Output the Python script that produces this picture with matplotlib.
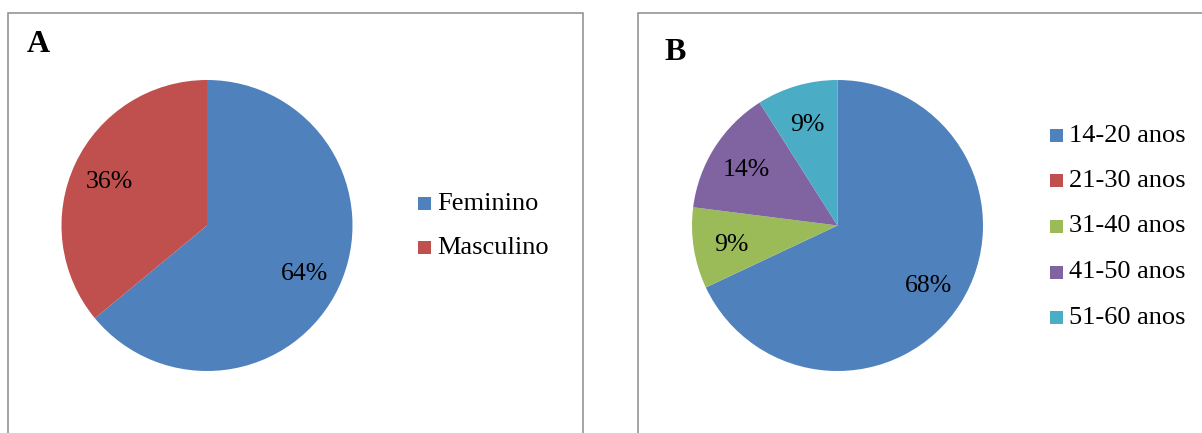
import matplotlib
matplotlib.use("Agg")
import matplotlib.pyplot as plt
from matplotlib.patches import Rectangle

plt.rcParams['font.family'] = ['Liberation Serif', 'DejaVu Serif']

# Data
sexo_labels = ["Feminino", "Masculino"]
sexo_values = [64, 36]
idade_labels = ["14-20 anos", "21-30 anos", "31-40 anos", "41-50 anos", "51-60 anos"]
idade_values = [68, 0, 9, 14, 9]

colors = ["#4F81BD", "#C0504D", "#9BBB59", "#8064A2", "#4BACC6"]

W, H = 1202, 433
fig = plt.figure(figsize=(W / 100, H / 100), dpi=100)
fig.patch.set_facecolor("white")

def fx(px):
    return px / W

def fy(py):
    return 1 - py / H

# Panel borders
border_kw = dict(fill=False, edgecolor="#8c8c8c", linewidth=1.1, transform=fig.transFigure, figure=fig)
fig.patches.append(Rectangle((fx(7.8), fy(460)), fx(583.3) - fx(7.8), fy(12.7) - fy(460), **border_kw))
fig.patches.append(Rectangle((fx(637.7), fy(460)), fx(1230) - fx(637.7), fy(12.7) - fy(460), **border_kw))

def make_pie(cx, cy, r, values, labels, cols):
    ax = fig.add_axes([fx(cx - r), fy(cy + r), 2 * r / W, 2 * r / H])
    wedges, texts, autotexts = ax.pie(
        values, colors=cols, startangle=90, counterclock=False,
        autopct=lambda p: f"{p:.0f}%" if p > 0 else "", pctdistance=0.74,
        wedgeprops=dict(linewidth=0),
        textprops=dict(fontsize=18.5, color="black"), radius=1.0)
    for t in autotexts:
        t.set_va("center_baseline")
    ax.set_xlim(-1, 1)
    ax.set_ylim(-1, 1)
    ax.set_aspect("equal")
    ax.axis("off")
    return wedges

def make_legend(x0, y0, dy, labels, cols):
    for i, (lab, c) in enumerate(zip(labels, cols)):
        y = y0 + i * dy
        fig.patches.append(Rectangle((fx(x0), fy(y + 6.5)), 13 / W, 13 / H,
                                     facecolor=c, edgecolor="none",
                                     transform=fig.transFigure, figure=fig))
        fig.text(fx(x0 + 19), fy(y), lab, fontsize=19, va="center", ha="left", color="black")

make_pie(207, 225.5, 145.5, sexo_values, sexo_labels, colors[:2])
make_legend(418, 203.5, 44, sexo_labels, colors[:2])

make_pie(837.5, 225.5, 145.5, idade_values, idade_labels, colors)
make_legend(1050, 135.5, 45.5, idade_labels, colors)

fig.text(fx(27), fy(44), "A", fontsize=23, fontweight="bold", va="center", ha="left")
fig.text(fx(664.5), fy(52), "B", fontsize=23, fontweight="bold", va="center", ha="left")

fig.savefig("out.png", dpi=100)
